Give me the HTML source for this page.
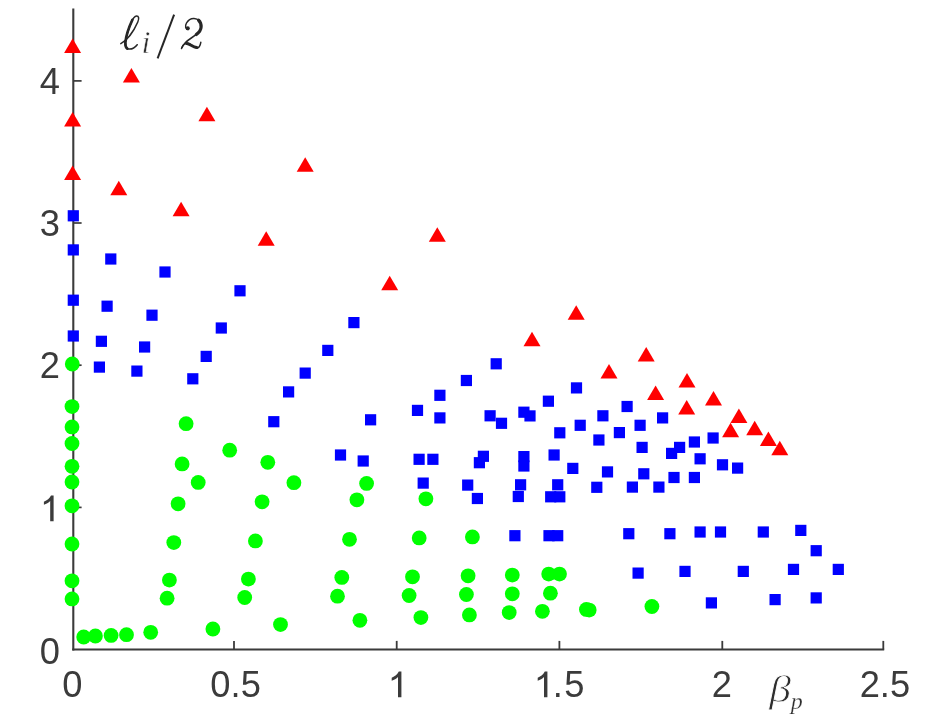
<!DOCTYPE html>
<html><head><meta charset="utf-8"><title>chart</title>
<style>
html,body{margin:0;padding:0;background:#fff;}
body{width:926px;height:725px;overflow:hidden;position:relative;font-family:"Liberation Sans",sans-serif;}
svg{position:absolute;left:0;top:0;display:block;}
.t{font-family:"Liberation Sans",sans-serif;font-size:36.3px;fill:#3a3a3a;}
.m{font-family:"Liberation Serif",serif;font-style:italic;fill:#2e2e2e;}
</style></head><body>
<svg width="926" height="725" viewBox="0 0 926 725">
<defs><filter id="sf" x="0" y="0" width="926" height="725" filterUnits="userSpaceOnUse"><feGaussianBlur stdDeviation="0.55"/></filter></defs>
<rect x="0" y="0" width="926" height="725" fill="#ffffff"/>
<g filter="url(#sf)">

<g stroke="#3a3a3a" fill="none" stroke-linecap="butt">
<path d="M73.3 8.5 V650.4" stroke-width="2.1"/>
<path d="M72.3 649.5 H884.2" stroke-width="1.8"/>
<path d="M234.0 649.5 v-8.6" stroke-width="1.8"/>
<path d="M396.7 649.5 v-8.6" stroke-width="1.8"/>
<path d="M559.4 649.5 v-8.6" stroke-width="1.8"/>
<path d="M722.3 649.5 v-8.6" stroke-width="1.8"/>
<path d="M883.3 649.5 v-8.6" stroke-width="1.8"/>
<path d="M73.3 507.4 h8.3" stroke-width="1.7"/>
<path d="M73.3 365.2 h8.3" stroke-width="1.7"/>
<path d="M73.3 223.0 h8.3" stroke-width="1.7"/>
<path d="M73.3 80.9 h8.3" stroke-width="1.7"/>
</g>
<text class="t" x="72.4" y="697.2" text-anchor="middle">0</text>
<text class="t" x="235.6" y="697.2" text-anchor="middle">0.5</text>
<path d="M0 0 V-25.7 H-2.6 C-4 -23 -6.5 -20.8 -9.7 -19.4 V-16.4 C-7.3 -17.3 -5 -18.6 -3.4 -20.2 V0 Z" transform="translate(401.4 697.2)" fill="#3a3a3a"/>
<path d="M0 0 V-25.7 H-2.6 C-4 -23 -6.5 -20.8 -9.7 -19.4 V-16.4 C-7.3 -17.3 -5 -18.6 -3.4 -20.2 V0 Z" transform="translate(547.4 697.2)" fill="#3a3a3a"/>
<text class="t" x="552.8" y="697.2">.</text>
<text class="t" x="584.4" y="697.2" text-anchor="end">5</text>
<text class="t" x="721.8" y="697.2" text-anchor="middle">2</text>
<text class="t" x="884.9" y="697.2" text-anchor="middle">2.5</text>
<text class="t" x="60.0" y="663.5" text-anchor="end">0</text>
<text class="t" x="60.0" y="378.0" text-anchor="end">2</text>
<text class="t" x="60.0" y="235.8" text-anchor="end">3</text>
<text class="t" x="60.0" y="93.7" text-anchor="end">4</text>
<path d="M0 0 V-25.7 H-2.6 C-4 -23 -6.5 -20.8 -9.7 -19.4 V-16.4 C-7.3 -17.3 -5 -18.6 -3.4 -20.2 V0 Z" transform="translate(53.6 521.2)" fill="#3a3a3a"/>
<g fill="none" stroke="#262626" stroke-linecap="round" stroke-linejoin="round">
<path d="M120.8 43.6 C126 41, 133 33, 137.8 22 C139.5 18, 138.5 16, 136.6 16.1 C134.5 16.2, 133 18, 131 23 C128 31, 125.5 38, 125.3 42.4 C125.2 46, 126 48.5, 128.5 49 C131.5 49.5, 135 47.5, 137.2 44.7" stroke-width="1.5"/>
<path d="M132.4 19.8 C130 25, 126 36, 125.4 42.4 C125.2 45, 125.8 47.5, 127.3 48.6" stroke-width="2.7"/>
<path d="M174.1 14.6 L157.6 58.3" stroke-width="2.0" stroke-linecap="butt"/>
<path d="M188.2 29.6 C185.5 29.5, 184.8 26, 186.5 23 C188.3 19.8, 191.5 18.3, 194 18.4 C198 18.5, 201.3 21.5, 201.3 26.5 C201.3 31, 197.5 34, 192 37.5 C187 40.7, 183 44.5, 181.5 48.5" stroke-width="1.5"/>
<path d="M198.6 20.2 C200.6 22, 201.2 24.5, 201.1 27 C201 30, 199 32.5, 196.3 34.6" stroke-width="3.2"/>
<path d="M181.8 47.5 C183.5 44, 186.5 42.5, 189 43.5 C191.5 44.5, 193.5 47.8, 196.5 48 C199 48.1, 200.3 45.5, 200.8 42.3" stroke-width="1.5"/>
<path d="M186.5 43.6 C189.5 43.3, 192.5 47.3, 196.8 47.6" stroke-width="3.0"/>
</g>
<circle cx="187.8" cy="28.3" r="2.0" fill="#262626"/>
<text class="m" x="141.6" y="53.2" font-size="32" stroke="#fff" stroke-width="0.5">i</text>
<text class="m" transform="translate(769.2 702.3) scale(1.15 1)" font-size="38" stroke="#fff" stroke-width="0.8">β</text>
<text class="m" x="790.8" y="708.7" font-size="24" stroke="#fff" stroke-width="0.25">p</text>
<g fill="#0000ff">
<rect x="67.7" y="210.2" width="11.2" height="11.2"/>
<rect x="67.7" y="244.3" width="11.2" height="11.2"/>
<rect x="105.2" y="253.4" width="11.2" height="11.2"/>
<rect x="159.4" y="266.4" width="11.2" height="11.2"/>
<rect x="234.4" y="285.2" width="11.2" height="11.2"/>
<rect x="67.7" y="294.6" width="11.2" height="11.2"/>
<rect x="101.5" y="300.6" width="11.2" height="11.2"/>
<rect x="146.4" y="309.6" width="11.2" height="11.2"/>
<rect x="215.7" y="322.4" width="11.2" height="11.2"/>
<rect x="67.7" y="330.4" width="11.2" height="11.2"/>
<rect x="95.8" y="335.7" width="11.2" height="11.2"/>
<rect x="139.0" y="341.4" width="11.2" height="11.2"/>
<rect x="200.6" y="350.8" width="11.2" height="11.2"/>
<rect x="93.8" y="361.5" width="11.2" height="11.2"/>
<rect x="131.3" y="365.5" width="11.2" height="11.2"/>
<rect x="187.2" y="373.2" width="11.2" height="11.2"/>
<rect x="299.6" y="367.5" width="11.2" height="11.2"/>
<rect x="283.0" y="386.3" width="11.2" height="11.2"/>
<rect x="268.2" y="416.1" width="11.2" height="11.2"/>
<rect x="348.3" y="317.0" width="11.2" height="11.2"/>
<rect x="322.2" y="344.8" width="11.2" height="11.2"/>
<rect x="490.6" y="358.2" width="11.2" height="11.2"/>
<rect x="460.8" y="374.9" width="11.2" height="11.2"/>
<rect x="434.3" y="389.7" width="11.2" height="11.2"/>
<rect x="570.9" y="382.3" width="11.2" height="11.2"/>
<rect x="542.8" y="395.6" width="11.2" height="11.2"/>
<rect x="411.9" y="404.8" width="11.2" height="11.2"/>
<rect x="434.3" y="412.3" width="11.2" height="11.2"/>
<rect x="365.0" y="414.2" width="11.2" height="11.2"/>
<rect x="484.5" y="410.2" width="11.2" height="11.2"/>
<rect x="495.9" y="417.7" width="11.2" height="11.2"/>
<rect x="518.3" y="406.6" width="11.2" height="11.2"/>
<rect x="524.4" y="410.3" width="11.2" height="11.2"/>
<rect x="574.6" y="419.7" width="11.2" height="11.2"/>
<rect x="597.3" y="410.2" width="11.2" height="11.2"/>
<rect x="554.2" y="427.2" width="11.2" height="11.2"/>
<rect x="593.3" y="434.4" width="11.2" height="11.2"/>
<rect x="334.9" y="449.4" width="11.2" height="11.2"/>
<rect x="357.6" y="455.4" width="11.2" height="11.2"/>
<rect x="413.5" y="453.7" width="11.2" height="11.2"/>
<rect x="427.3" y="453.7" width="11.2" height="11.2"/>
<rect x="477.8" y="450.7" width="11.2" height="11.2"/>
<rect x="473.8" y="457.1" width="11.2" height="11.2"/>
<rect x="518.3" y="451.0" width="11.2" height="11.2"/>
<rect x="518.3" y="460.4" width="11.2" height="11.2"/>
<rect x="548.5" y="449.4" width="11.2" height="11.2"/>
<rect x="567.2" y="462.8" width="11.2" height="11.2"/>
<rect x="601.9" y="466.3" width="11.2" height="11.2"/>
<rect x="417.6" y="477.5" width="11.2" height="11.2"/>
<rect x="462.1" y="479.5" width="11.2" height="11.2"/>
<rect x="471.8" y="492.9" width="11.2" height="11.2"/>
<rect x="515.0" y="479.2" width="11.2" height="11.2"/>
<rect x="512.7" y="490.9" width="11.2" height="11.2"/>
<rect x="552.1" y="479.2" width="11.2" height="11.2"/>
<rect x="545.1" y="491.2" width="11.2" height="11.2"/>
<rect x="554.2" y="491.2" width="11.2" height="11.2"/>
<rect x="591.2" y="481.7" width="11.2" height="11.2"/>
<rect x="509.3" y="530.1" width="11.2" height="11.2"/>
<rect x="543.4" y="530.1" width="11.2" height="11.2"/>
<rect x="552.1" y="530.1" width="11.2" height="11.2"/>
<rect x="621.5" y="400.9" width="11.2" height="11.2"/>
<rect x="657.0" y="412.3" width="11.2" height="11.2"/>
<rect x="634.5" y="419.7" width="11.2" height="11.2"/>
<rect x="613.8" y="427.0" width="11.2" height="11.2"/>
<rect x="707.5" y="432.4" width="11.2" height="11.2"/>
<rect x="688.8" y="436.4" width="11.2" height="11.2"/>
<rect x="636.5" y="441.8" width="11.2" height="11.2"/>
<rect x="674.0" y="441.8" width="11.2" height="11.2"/>
<rect x="666.0" y="447.8" width="11.2" height="11.2"/>
<rect x="694.5" y="453.2" width="11.2" height="11.2"/>
<rect x="716.9" y="459.2" width="11.2" height="11.2"/>
<rect x="732.0" y="462.5" width="11.2" height="11.2"/>
<rect x="638.2" y="468.2" width="11.2" height="11.2"/>
<rect x="668.4" y="471.9" width="11.2" height="11.2"/>
<rect x="688.8" y="471.9" width="11.2" height="11.2"/>
<rect x="626.8" y="481.5" width="11.2" height="11.2"/>
<rect x="653.3" y="481.5" width="11.2" height="11.2"/>
<rect x="623.2" y="528.1" width="11.2" height="11.2"/>
<rect x="664.3" y="528.1" width="11.2" height="11.2"/>
<rect x="694.5" y="526.4" width="11.2" height="11.2"/>
<rect x="714.9" y="526.4" width="11.2" height="11.2"/>
<rect x="757.7" y="526.4" width="11.2" height="11.2"/>
<rect x="795.2" y="524.8" width="11.2" height="11.2"/>
<rect x="810.6" y="545.1" width="11.2" height="11.2"/>
<rect x="632.5" y="567.5" width="11.2" height="11.2"/>
<rect x="679.4" y="565.8" width="11.2" height="11.2"/>
<rect x="737.7" y="565.8" width="11.2" height="11.2"/>
<rect x="787.9" y="563.8" width="11.2" height="11.2"/>
<rect x="832.7" y="563.8" width="11.2" height="11.2"/>
<rect x="705.8" y="597.3" width="11.2" height="11.2"/>
<rect x="769.5" y="594.0" width="11.2" height="11.2"/>
<rect x="810.6" y="592.3" width="11.2" height="11.2"/>
</g><g fill="#00ff00">
<circle cx="72.3" cy="364.0" r="7.4"/>
<circle cx="72.0" cy="406.6" r="7.4"/>
<circle cx="72.0" cy="426.9" r="7.4"/>
<circle cx="72.0" cy="443.5" r="7.4"/>
<circle cx="72.0" cy="466.3" r="7.4"/>
<circle cx="72.0" cy="482.0" r="7.4"/>
<circle cx="72.0" cy="505.8" r="7.4"/>
<circle cx="72.0" cy="544.0" r="7.4"/>
<circle cx="72.0" cy="580.8" r="7.4"/>
<circle cx="72.0" cy="598.9" r="7.4"/>
<circle cx="186.1" cy="423.7" r="7.4"/>
<circle cx="229.7" cy="450.2" r="7.4"/>
<circle cx="182.1" cy="463.9" r="7.4"/>
<circle cx="267.8" cy="462.3" r="7.4"/>
<circle cx="198.2" cy="482.4" r="7.4"/>
<circle cx="293.9" cy="482.7" r="7.4"/>
<circle cx="178.1" cy="503.8" r="7.4"/>
<circle cx="262.1" cy="501.8" r="7.4"/>
<circle cx="173.8" cy="542.6" r="7.4"/>
<circle cx="255.4" cy="540.9" r="7.4"/>
<circle cx="169.4" cy="580.1" r="7.4"/>
<circle cx="248.4" cy="579.1" r="7.4"/>
<circle cx="167.1" cy="598.2" r="7.4"/>
<circle cx="244.7" cy="597.5" r="7.4"/>
<circle cx="83.7" cy="637.0" r="7.4"/>
<circle cx="95.4" cy="636.0" r="7.4"/>
<circle cx="111.1" cy="635.4" r="7.4"/>
<circle cx="126.5" cy="634.7" r="7.4"/>
<circle cx="150.7" cy="632.3" r="7.4"/>
<circle cx="212.9" cy="629.0" r="7.4"/>
<circle cx="280.5" cy="624.6" r="7.4"/>
<circle cx="366.6" cy="483.4" r="7.4"/>
<circle cx="356.9" cy="499.8" r="7.4"/>
<circle cx="425.9" cy="498.8" r="7.4"/>
<circle cx="349.5" cy="539.3" r="7.4"/>
<circle cx="419.2" cy="537.9" r="7.4"/>
<circle cx="472.4" cy="536.9" r="7.4"/>
<circle cx="341.8" cy="577.4" r="7.4"/>
<circle cx="337.5" cy="596.2" r="7.4"/>
<circle cx="359.9" cy="620.3" r="7.4"/>
<circle cx="412.5" cy="576.8" r="7.4"/>
<circle cx="409.1" cy="595.5" r="7.4"/>
<circle cx="420.9" cy="617.6" r="7.4"/>
<circle cx="468.1" cy="575.8" r="7.4"/>
<circle cx="466.4" cy="594.5" r="7.4"/>
<circle cx="469.4" cy="614.9" r="7.4"/>
<circle cx="512.3" cy="575.1" r="7.4"/>
<circle cx="512.3" cy="593.8" r="7.4"/>
<circle cx="509.2" cy="612.6" r="7.4"/>
<circle cx="548.7" cy="574.1" r="7.4"/>
<circle cx="559.5" cy="574.1" r="7.4"/>
<circle cx="550.4" cy="593.2" r="7.4"/>
<circle cx="542.4" cy="611.3" r="7.4"/>
<circle cx="586.4" cy="609.4" r="7.4"/>
<circle cx="589.2" cy="610.1" r="7.4"/>
<circle cx="651.9" cy="606.5" r="7.4"/>
</g><g fill="#ff0000">
<path d="M72.6 38.4 L81.1 52.9 L64.1 52.9 Z"/>
<path d="M131.4 68.0 L139.9 82.5 L122.9 82.5 Z"/>
<path d="M72.6 112.1 L81.1 126.6 L64.1 126.6 Z"/>
<path d="M206.9 106.7 L215.4 121.2 L198.4 121.2 Z"/>
<path d="M72.6 165.6 L81.1 180.1 L64.1 180.1 Z"/>
<path d="M118.8 180.7 L127.3 195.2 L110.3 195.2 Z"/>
<path d="M181.1 201.8 L189.6 216.2 L172.6 216.2 Z"/>
<path d="M305.2 157.2 L313.7 171.7 L296.7 171.7 Z"/>
<path d="M266.2 231.2 L274.7 245.7 L257.7 245.7 Z"/>
<path d="M437.3 227.3 L445.8 241.8 L428.8 241.8 Z"/>
<path d="M389.7 275.8 L398.2 290.3 L381.2 290.3 Z"/>
<path d="M576.2 305.3 L584.7 319.8 L567.7 319.8 Z"/>
<path d="M532.0 331.8 L540.5 346.2 L523.5 346.2 Z"/>
<path d="M646.2 347.0 L654.7 361.5 L637.7 361.5 Z"/>
<path d="M609.0 364.1 L617.5 378.6 L600.5 378.6 Z"/>
<path d="M687.0 373.1 L695.5 387.6 L678.5 387.6 Z"/>
<path d="M655.6 385.5 L664.1 400.0 L647.1 400.0 Z"/>
<path d="M713.5 390.9 L722.0 405.4 L705.0 405.4 Z"/>
<path d="M686.7 399.9 L695.2 414.4 L678.2 414.4 Z"/>
<path d="M738.9 408.6 L747.4 423.1 L730.4 423.1 Z"/>
<path d="M730.6 422.8 L739.1 437.2 L722.1 437.2 Z"/>
<path d="M754.7 420.8 L763.2 435.2 L746.2 435.2 Z"/>
<path d="M768.4 431.4 L776.9 445.9 L759.9 445.9 Z"/>
<path d="M779.8 440.8 L788.3 455.2 L771.3 455.2 Z"/>
</g>
</g></svg></body></html>
